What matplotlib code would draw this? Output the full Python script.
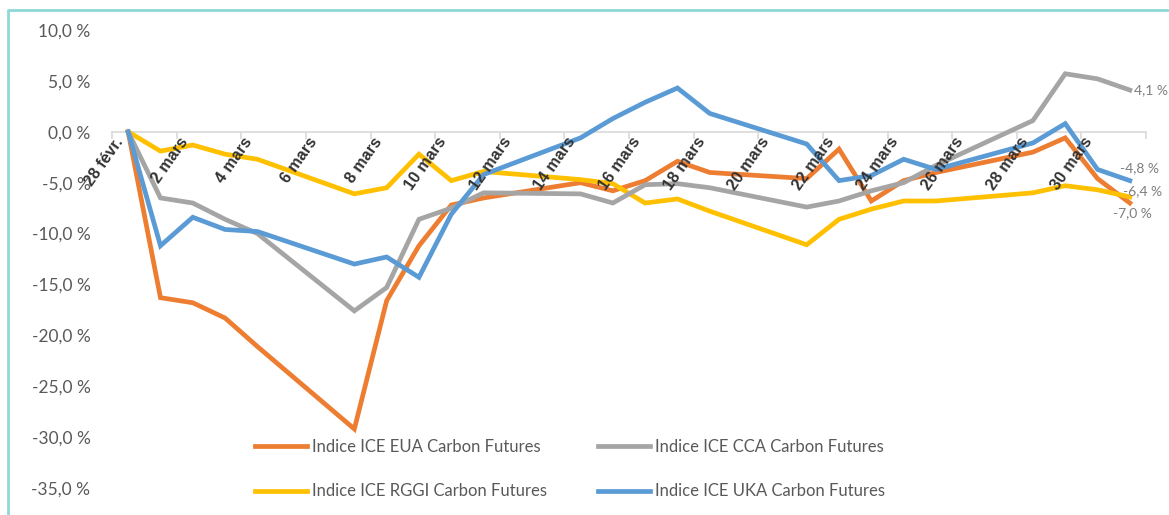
import numpy as np
import matplotlib
matplotlib.use("Agg")
import matplotlib.pyplot as plt
from matplotlib.lines import Line2D
from matplotlib.ticker import FixedLocator, FuncFormatter

# day index: 0 = 28 févr., n = n mars
days = [0, 1, 2, 3, 4, 7, 8, 9, 10, 11, 14, 15, 16, 17, 18,
        21, 22, 23, 24, 25, 28, 29, 30, 31]
n_categories = 32
tick_labels = ["28 févr."] + [f"{d} mars" for d in range(2, 31, 2)]

eua = [0.0, -16.3, -16.8, -18.3, -21.1, -29.2, -16.6, -11.2, -7.2, -6.5,
       -5.0, -5.8, -4.8, -2.9, -4.0, -4.6, -1.7, -6.8, -4.8, -4.0,
       -2.0, -0.6, -4.6, -7.0]
cca = [0.0, -6.5, -7.0, -8.6, -10.0, -17.6, -15.3, -8.6, -7.5, -6.0,
       -6.1, -7.0, -5.2, -5.1, -5.5, -7.4, -6.8, -5.8, -5.0, -3.3,
       1.1, 5.7, 5.2, 4.1]
rggi = [0.0, -1.9, -1.3, -2.2, -2.7, -6.1, -5.5, -2.2, -4.8, -3.9,
        -4.7, -5.1, -7.0, -6.6, -7.8, -11.1, -8.6, -7.6, -6.8, -6.8,
        -6.0, -5.3, -5.7, -6.4]
uka = [0.0, -11.2, -8.4, -9.6, -9.8, -13.0, -12.3, -14.3, -8.1, -4.2,
       -0.6, 1.3, 2.9, 4.3, 1.8, -1.2, -4.8, -4.3, -2.7, -3.7,
       -1.1, 0.8, -3.7, -4.8]

series = [
    ("Indice ICE EUA Carbon Futures", eua, "#ED7D31", (-12, -7.5)),
    ("Indice ICE RGGI Carbon Futures", rggi, "#FFC000", (-5, 4)),
    ("Indice ICE CCA Carbon Futures", cca, "#A5A5A5", (3, 0)),
    ("Indice ICE UKA Carbon Futures", uka, "#5B9BD5", (-7, 9)),
]


def pct(v, pos=None):
    return f"{v:.1f}".replace(".", ",") + " %"


fig = plt.figure(figsize=(11.69, 5.15), dpi=100)
ax = fig.add_axes([112 / 1169, 1 - 488 / 515, (1146 - 112) / 1169, (488 - 30) / 515])
ax.set_axisbelow(False)

handles = []
for label, vals, color, off in series:
    h, = ax.plot(days, vals, color=color, lw=3.4, solid_joinstyle="miter", label=label)
    handles.append(h)
    ax.annotate(pct(vals[-1]), xy=(days[-1], vals[-1]), xytext=off,
                textcoords="offset points", ha="left", va="center",
                fontsize=10, color="#7f7f7f", family="Lato")

ax.set_xlim(-0.5, n_categories - 0.5)
ax.set_ylim(-35, 10)

for s in ["top", "right", "left"]:
    ax.spines[s].set_visible(False)
ax.spines["bottom"].set_position(("data", 0))
ax.spines["bottom"].set_color("#d9d9d9")
ax.spines["bottom"].set_linewidth(1.2)
ax.spines["bottom"].set_zorder(1)

# ticks at category boundaries every 2 days, labels on even days
ax.xaxis.set_major_locator(FixedLocator(np.arange(-0.5, n_categories, 2)))
ax.xaxis.set_major_formatter(FuncFormatter(lambda v, p: ""))
ax.xaxis.set_minor_locator(FixedLocator(np.arange(0, n_categories, 2) - 0.25))
ax.set_xticklabels(tick_labels, minor=True)
ax.tick_params(axis="x", which="major", length=5, color="#d9d9d9", width=1.2)
ax.tick_params(axis="x", which="minor", length=0, pad=5)
for t in ax.get_xticklabels(minor=True):
    t.set_rotation(55)
    t.set_ha("right")
    t.set_va("center")
    t.set_rotation_mode("anchor")
    t.set_fontweight("bold")
    t.set_fontsize(11.5)
    t.set_family("Liberation Sans")
    t.set_color("#333333")

ax.set_yticks(np.arange(-35, 10.1, 5))
ax.yaxis.set_major_formatter(FuncFormatter(pct))
ax.tick_params(axis="y", length=0, pad=15.5, labelsize=12.5, labelcolor="#595959")
for t in ax.get_yticklabels():
    t.set_family("Lato")

leg = fig.legend(handles, [h.get_label() for h in handles], ncol=2,
                 loc="upper left", bbox_to_anchor=(255 / 1169, 1 - 439 / 515),
                 frameon=False, prop={"family": "Lato", "size": 12},
                 handlelength=3.1, handletextpad=0.3, columnspacing=3.1,
                 labelspacing=1.7, borderpad=0, borderaxespad=0)
for t in leg.get_texts():
    t.set_color("#595959")

# teal frame, only left and top edges visible in the crop
fig.add_artist(Line2D([8 / 1169, 8 / 1169, 1.0], [0.0, 1 - 10 / 515, 1 - 10 / 515],
                      transform=fig.transFigure, color="#8ed8d8", lw=2))

fig.savefig("out.png", dpi=100)
